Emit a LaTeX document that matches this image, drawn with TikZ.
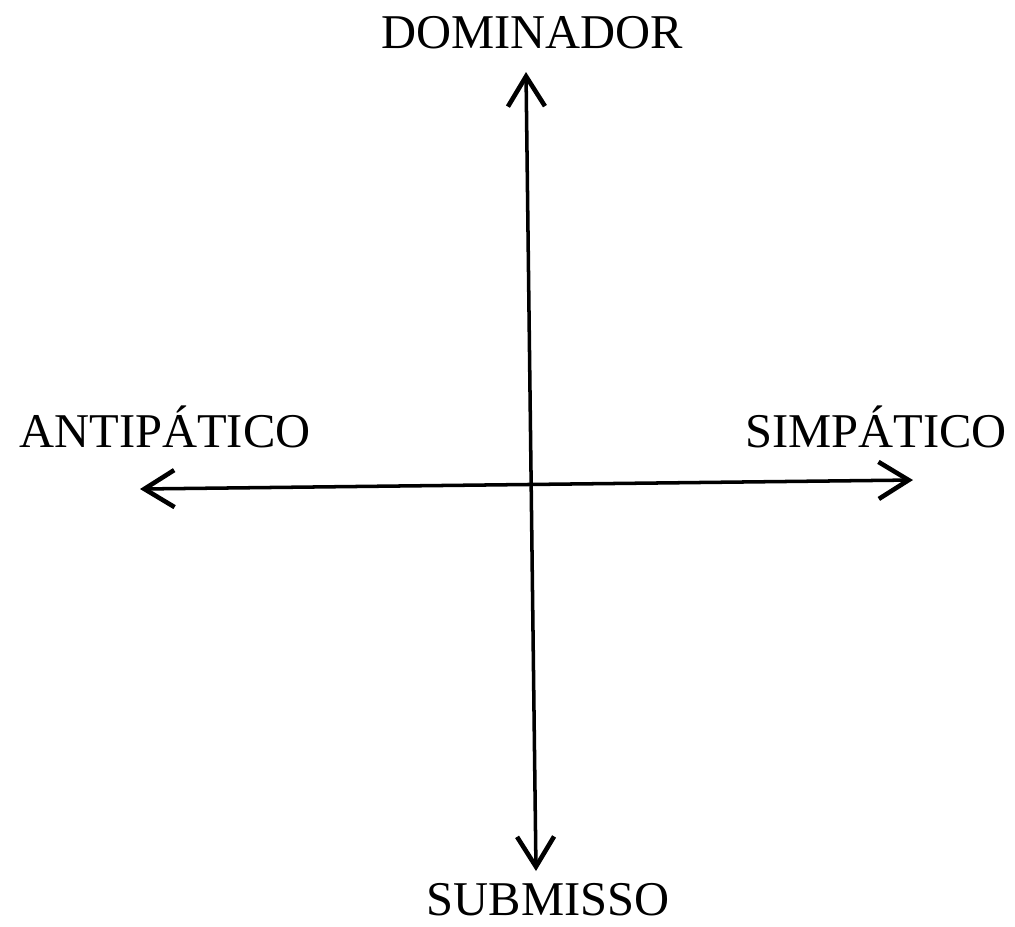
\documentclass[tikz,border=0pt]{standalone}
\usepackage{fontspec}
\setmainfont{Liberation Serif}
\usetikzlibrary{arrows.meta}

\begin{document}
\begin{tikzpicture}[x=0.01cm, y=-0.01cm,
    axisline/.style={line width=1pt, line cap=round,
      {Straight Barb[length=0.3cm, width=0.37cm, line width=1.3pt]}-{Straight Barb[length=0.3cm, width=0.37cm, line width=1.3pt]}},
    pole/.style={anchor=base, inner sep=0pt, font=\fontsize{13.8}{16}\selectfont}]
    \useasboundingbox (0,0) rectangle (1015,926);

    % Ends of the two axes
    \coordinate (top) at (526,72);
    \coordinate (bottom) at (536,871);
    \coordinate (left) at (140,489);
    \coordinate (right) at (913,480);

    % Axes
    \draw[axisline] (bottom) -- (top);
    \draw[axisline] (left) -- (right);

    % Poles
    \node[pole] (dominador) at (532,48) {DOMINADOR};
    \node[pole] (submisso) at (548,915) {SUBMISSO};
    \node[pole] (antipatico) at (165,447) {ANTIPÁTICO};
    \node[pole] (simpatico) at (876,447) {SIMPÁTICO};
\end{tikzpicture}
\end{document}
